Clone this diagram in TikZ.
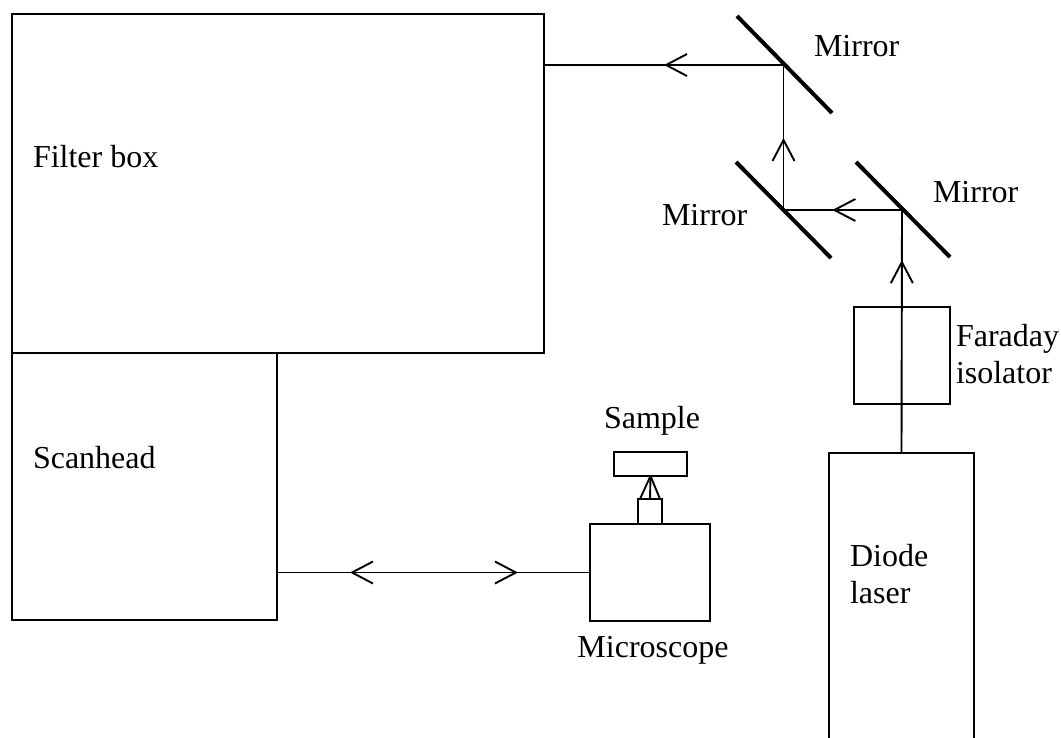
\documentclass[tikz,border=0pt]{standalone}
\usepackage{fontspec}
\setmainfont{Liberation Serif}
\usetikzlibrary{arrows.meta,decorations.markings,calc}
\begin{document}
\begin{tikzpicture}[x=1pt,y=-1pt,
  box/.style={draw, line width=2pt, inner sep=0pt, outer sep=0pt, rectangle},
  beam/.style={line width=1.9pt},
  mirror/.style={line width=4pt},
  lbl/.style={font=\fontsize{32}{36.5}\selectfont, inner sep=0pt, outer sep=0pt, anchor=base west, align=left},
  clbl/.style={font=\fontsize{32}{36.5}\selectfont, inner sep=0pt, outer sep=0pt, anchor=base},
  barb/.tip={Straight Barb[length=21pt,width=22pt]},
  tipat/.style={postaction={decorate}, decoration={markings, mark=at position #1 with {\arrow{barb}}}},
  twotips/.style 2 args={postaction={decorate}, decoration={markings,
      mark=at position #1 with {\arrowreversed{barb}},
      mark=at position #2 with {\arrow{barb}}}}
  ]
\useasboundingbox (0,0) rectangle (1061,737);
\fill[white] (0,0) rectangle (1061,737);
\clip (0,0) rectangle (1061,737);

% boxes
\node[box, minimum width=532pt, minimum height=339pt] (filter) at (278,183.5) {};
\node[box, minimum width=265pt, minimum height=267pt] (scan) at (144.5,486.5) {};
\node[box, minimum width=120pt, minimum height=97pt] (micro) at (650,572.5) {};
\node[box, minimum width=24pt, minimum height=25pt] (obj) at (650,511.5) {};
\node[box, minimum width=73pt, minimum height=24pt] (sample) at (650.5,464) {};
\node[box, minimum width=96pt, minimum height=97pt] (faraday) at (902,355.5) {};
\node[box, minimum width=145pt, minimum height=307pt] (laser) at (901.5,606.5) {};

% mirrors
\draw[mirror] (737,16) -- (832,113);
\draw[mirror] (736,162) -- (831,258);
\draw[mirror] (856,162) -- (950,257);

% beam junctions
\coordinate (mR) at (902,210);
\coordinate (mL) at (783.5,210);
\coordinate (mT) at (783.5,65);

% beams
\draw[beam, tipat=0.794] (laser.north) -- (mR);
\draw[beam, tipat=0.588] (mR) -- (mL);
\draw[beam, tipat=0.497] (mL) -- (mT);
\draw[beam, tipat=0.499] (mT) -- (filter.east |- mT);
\draw[beam, twotips={0.233}{0.770}] (scan.east |- micro.west) -- (micro.west);

% objective to sample cone
\draw[beam] ($(obj.north west)+(2,0)$) -- (sample.south);
\draw[beam] ($(obj.north east)+(-2,0)$) -- (sample.south);
\draw[beam] (obj.north) -- (sample.south);

% labels
\node[lbl] (lfilter) at (33,167) {Filter box};
\node[lbl] (lscan) at (33,468) {Scanhead};
\node[clbl] (lsample) at (652,428) {Sample};
\node[clbl] (lmicro) at (653,657) {Microscope};
\node[lbl] (llaser) at (850,603) {Diode\\laser};
\node[lbl] (lfaraday) at (956,383) {Faraday\\isolator};
\node[lbl] (lmT) at (814,56) {Mirror};
\node[lbl] (lmL) at (662,225) {Mirror};
\node[lbl] (lmR) at (933,202) {Mirror};
\end{tikzpicture}
\end{document}
